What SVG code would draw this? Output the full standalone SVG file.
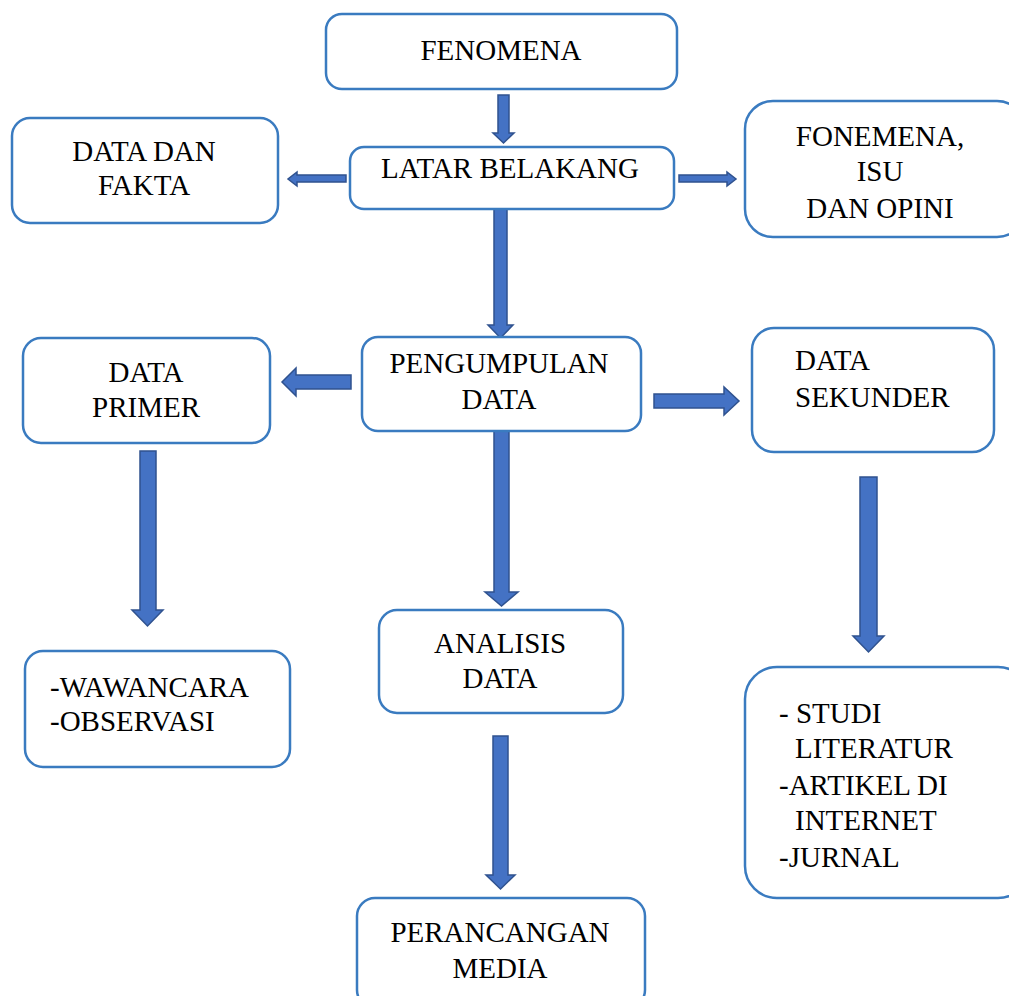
<svg xmlns="http://www.w3.org/2000/svg" width="1009" height="996" viewBox="0 0 1009 996">
<style>
.box{fill:#fff;stroke:#3A7BC0;stroke-width:2.5}
.t{font-family:"Liberation Serif","Times New Roman",serif;font-size:29px;fill:#000}
.c{text-anchor:middle}
.arr{fill:#4472C4;stroke:#2F528F;stroke-width:1.5;stroke-linejoin:miter}
</style>
<rect width="1009" height="996" fill="#fff"/>
<g id="connectors">
<polygon class="arr" points="498,95 509,95 509,133 514,133 503.5,143 493,133 498,133"/>
<polygon class="arr" points="346,175 346,182 297,182 297,186 288,179 297,172 297,175"/>
<polygon class="arr" points="679,175 679,182 727,182 727,186 736,179 727,172 727,175"/>
<polygon class="arr" points="494,209 507,209 507,325 513,325 500.5,338 488,325 494,325"/>
<polygon class="arr" points="351,375 351,389 296,389 296,396 282,382 296,368 296,375"/>
<polygon class="arr" points="140,451 156,451 156,610 163,610 147.5,626 132,610 140,610"/>
<polygon class="arr" points="654,394 654,408 724,408 724,415 739,401 724,387 724,394"/>
<polygon class="arr" points="860,477 877,477 877,636 884,636 868.5,652 853,636 860,636"/>
<polygon class="arr" points="494,431 509,431 509,592 518,592 501.5,606 485,592 494,592"/>
<polygon class="arr" points="493,736 508,736 508,875 515,875 500.5,889 486,875 493,875"/>
</g>
<g id="fenomena">
<rect class="box" x="326" y="14" width="351" height="75" rx="16"/>
<text class="t c" x="501" y="60">FENOMENA</text>
</g>
<g id="data-dan-fakta">
<rect class="box" x="12" y="118" width="266" height="105" rx="18"/>
<text class="t c" x="144" y="161">DATA DAN</text>
<text class="t c" x="144" y="195">FAKTA</text>
</g>
<g id="latar-belakang">
<rect class="box" x="350" y="147" width="324" height="62" rx="14"/>
<text class="t c" x="510" y="178">LATAR BELAKANG</text>
</g>
<g id="fonemena-isu">
<rect class="box" x="745" y="101" width="280" height="136" rx="28"/>
<text class="t c" x="880" y="146">FONEMENA,</text>
<text class="t c" x="880" y="181">ISU</text>
<text class="t c" x="880" y="218">DAN OPINI</text>
</g>
<g id="pengumpulan-data">
<rect class="box" x="362" y="337" width="279" height="94" rx="16"/>
<text class="t c" x="499" y="373">PENGUMPULAN</text>
<text class="t c" x="499" y="409">DATA</text>
</g>
<g id="data-primer">
<rect class="box" x="23" y="338" width="247" height="105" rx="18"/>
<text class="t c" x="146" y="382">DATA</text>
<text class="t c" x="146" y="417">PRIMER</text>
</g>
<g id="data-sekunder">
<rect class="box" x="752" y="328" width="242" height="124" rx="22"/>
<text class="t" x="795" y="370">DATA</text>
<text class="t" x="795" y="407">SEKUNDER</text>
</g>
<g id="wawancara-observasi">
<rect class="box" x="25" y="651" width="265" height="116" rx="18"/>
<text class="t" x="50" y="697">-WAWANCARA</text>
<text class="t" x="50" y="731">-OBSERVASI</text>
</g>
<g id="analisis-data">
<rect class="box" x="379" y="610" width="244" height="103" rx="18"/>
<text class="t c" x="500" y="653">ANALISIS</text>
<text class="t c" x="500" y="688">DATA</text>
</g>
<g id="perancangan-media">
<rect class="box" x="357" y="898" width="288" height="110" rx="18"/>
<text class="t c" x="500" y="942">PERANCANGAN</text>
<text class="t c" x="500" y="978">MEDIA</text>
</g>
<g id="literatur">
<rect class="box" x="745" y="667" width="285" height="231" rx="32"/>
<text class="t" x="779" y="723">- STUDI</text>
<text class="t" x="795" y="758">LITERATUR</text>
<text class="t" x="779" y="795">-ARTIKEL DI</text>
<text class="t" x="795" y="830">INTERNET</text>
<text class="t" x="779" y="867">-JURNAL</text>
</g>
</svg>
